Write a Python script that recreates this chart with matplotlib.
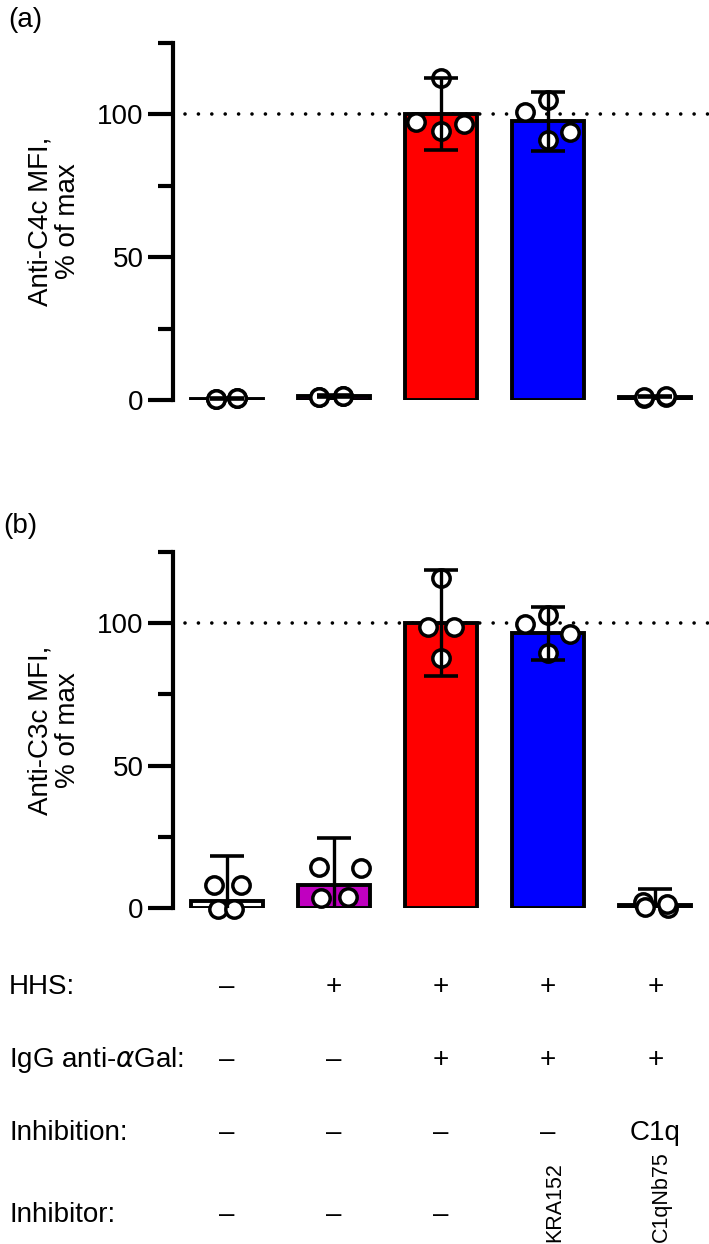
import matplotlib
matplotlib.use("Agg")
import matplotlib.pyplot as plt
from matplotlib import transforms

plt.rcParams['font.family'] = ['Liberation Sans', 'DejaVu Sans']

groups = [0, 1, 2, 3, 4]
bar_colors = ['white', '#C000C0', '#FF0000', '#0000FF', 'white']

# panel (a): anti-C4c
c4c_mean = [0.5, 1.4, 100.0, 97.5, 1.1]
c4c_sd = [0.3, 0.2, 12.6, 10.3, 0.2]
c4c_points = [
    [0.2, 0.4, 0.6, 0.8],
    [1.0, 1.2, 1.3, 1.5],
    [112.6, 97.2, 94.0, 96.5],
    [100.7, 105.0, 91.0, 93.7],
    [0.8, 1.0, 1.1, 1.3],
]

# panel (b): anti-C3c
c3c_mean = [2.5, 8.0, 100.0, 96.5, 1.0]
c3c_sd = [15.7, 16.6, 18.5, 9.3, 5.7]
c3c_points = [
    [8.1, 8.1, -0.5, -0.5],
    [14.5, 14.0, 3.5, 3.9],
    [115.8, 98.6, 98.6, 87.7],
    [99.6, 102.8, 89.5, 96.1],
    [2.0, 0.3, 0.0, 1.5],
]

# horizontal scatter of the dots inside each group
jitter_a = [[-0.1, -0.1, 0.1, 0.1], [-0.14, -0.14, 0.09, 0.09],
            [0, -0.23, 0, 0.21], [-0.22, 0, 0, 0.2], [-0.11, -0.11, 0.1, 0.1]]
jitter_b = [[-0.12, 0.13, -0.08, 0.07], [-0.14, 0.25, -0.12, 0.13],
            [0, -0.12, 0.12, 0], [-0.22, 0, 0, 0.2], [-0.12, -0.1, 0.12, 0.11]]

row_names = ['HHS:', 'IgG anti-$\\alpha$Gal:', 'Inhibition:', 'Inhibitor:']
row_values = [
    ['\u2013', '+', '+', '+', '+'],
    ['\u2013', '\u2013', '+', '+', '+'],
    ['\u2013', '\u2013', '\u2013', '\u2013', 'C1q'],
    ['\u2013', '\u2013', '\u2013', 'KRA152', 'C1qNb75'],
]

fs = 20

fig = plt.figure(figsize=(7.09, 12.44), dpi=100)
ax_a = fig.add_axes([0.244, 0.6785, 0.756, 0.287])
ax_b = fig.add_axes([0.244, 0.2701, 0.756, 0.2862])


def draw_panel(ax, means, sds, points, jitter, ylabel):
    ax.bar(groups, means, width=0.67, color=bar_colors, edgecolor='black',
           linewidth=2.8, zorder=1)
    for g in groups:
        xs = [g + d for d in jitter[g]]
        ax.plot(xs, points[g], 'o', ms=12.5, mfc='white', mec='black',
                mew=2.5, zorder=3, clip_on=False)
    ax.errorbar(groups, means, yerr=sds, fmt='none', ecolor='black',
                elinewidth=2.4, capsize=12, capthick=2.6, zorder=4)
    ax.plot([-0.39, 4.5], [100, 100], color='black', lw=2.6,
            linestyle=(0, (0.01, 3.7)), dash_capstyle='round', zorder=0,
            clip_on=False)
    ax.set_xlim(-0.5, 4.5)
    ax.set_ylim(0, 125)
    for s in ['top', 'right', 'bottom']:
        ax.spines[s].set_visible(False)
    ax.spines['left'].set_linewidth(3)
    ax.set_xticks([])
    ax.set_yticks([0, 50, 100])
    ax.set_yticks([25, 75, 125], minor=True)
    ax.tick_params(axis='y', which='major', length=18, width=3,
                   labelsize=fs, pad=3)
    ax.tick_params(axis='y', which='minor', length=11, width=3)
    ax.set_ylabel(ylabel, fontsize=fs, linespacing=1.05, labelpad=12)


draw_panel(ax_a, c4c_mean, c4c_sd, c4c_points, jitter_a,
           'Anti-C4c MFI,\n% of max')
draw_panel(ax_b, c3c_mean, c3c_sd, c3c_points, jitter_b,
           'Anti-C3c MFI,\n% of max')

fig.text(0.012, 0.984, '(a)', fontsize=fs, va='center', ha='left')
fig.text(0.004, 0.577, '(b)', fontsize=fs, va='center', ha='left')

# condition table under panel (b)
trans = transforms.blended_transform_factory(ax_b.transData, fig.transFigure)
row_y = [987, 1060, 1133, 1215]
for r, name in enumerate(row_names):
    yf = 1 - row_y[r] / 1244
    fig.text(0.013, yf, name, fontsize=fs, va='center', ha='left')
    for g in groups:
        val = row_values[r][g]
        if len(val) > 3:
            ax_b.text(g + 0.06, 1 - 1242 / 1244, val, transform=trans,
                      fontsize=15.5, rotation=90, ha='center', va='bottom')
        else:
            ax_b.text(g, yf, val, transform=trans, fontsize=fs,
                      ha='center', va='center')

fig.savefig('out.png', dpi=100)
